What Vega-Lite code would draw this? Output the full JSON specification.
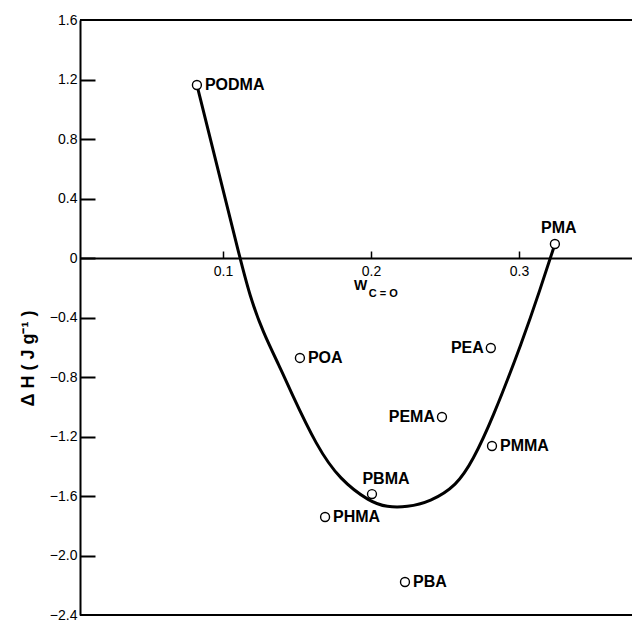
{
  "$schema": "https://vega.github.io/schema/vega-lite/v6.json",
  "autosize": "none",
  "width": 552,
  "height": 595,
  "padding": {"left": 80, "top": 20, "right": 0, "bottom": 12},
  "background": "white",
  "config": {
    "view": {"stroke": null},
    "font": "Liberation Sans",
    "axis": {"grid": false, "domainColor": "black", "tickColor": "black", "labelColor": "black", "titleColor": "black"}
  },
  "resolve": {"axis": {"x": "independent", "y": "independent"}},
  "datasets": {
    "points": [
      {"name": "PODMA", "w": 0.0824, "dh": 1.163},
      {"name": "PMA", "w": 0.3243, "dh": 0.094},
      {"name": "POA", "w": 0.152, "dh": -0.672},
      {"name": "PEA", "w": 0.281, "dh": -0.605},
      {"name": "PEMA", "w": 0.248, "dh": -1.069},
      {"name": "PMMA", "w": 0.2818, "dh": -1.264},
      {"name": "PBMA", "w": 0.2007, "dh": -1.587},
      {"name": "PHMA", "w": 0.169, "dh": -1.741},
      {"name": "PBA", "w": 0.223, "dh": -2.178}
    ],
    "curve": [
      {"w": 0.0824, "dh": 1.163},
      {"w": 0.097, "dh": 0.58},
      {"w": 0.1115, "dh": 0.0},
      {"w": 0.118, "dh": -0.25},
      {"w": 0.127, "dh": -0.50},
      {"w": 0.1385, "dh": -0.733},
      {"w": 0.1453, "dh": -0.887},
      {"w": 0.1635, "dh": -1.27},
      {"w": 0.179, "dh": -1.49},
      {"w": 0.1993, "dh": -1.64},
      {"w": 0.2108, "dh": -1.675},
      {"w": 0.2243, "dh": -1.675},
      {"w": 0.2399, "dh": -1.64},
      {"w": 0.258, "dh": -1.53},
      {"w": 0.2689, "dh": -1.36},
      {"w": 0.2818, "dh": -1.09},
      {"w": 0.3027, "dh": -0.55},
      {"w": 0.3142, "dh": -0.215},
      {"w": 0.3243, "dh": 0.094}
    ],
    "frame": [{"dh": 1.6}, {"dh": -2.4}],
    "xtitle": [{"t": "W", "w": 0.1885, "dh": -0.185, "k": "main"}, {"t": "C = O", "w": 0.1985, "dh": -0.24, "k": "sub"}]
  },
  "layer": [
    {
      "data": {"name": "frame"},
      "mark": {"type": "rule", "color": "black", "strokeWidth": 2},
      "encoding": {
        "y": {"field": "dh", "type": "quantitative", "scale": {"domain": [-2.4, 1.6], "nice": false, "zero": false},
          "axis": {"values": [-2.4, -2.0, -1.6, -1.2, -0.8, -0.4, 0, 0.4, 0.8, 1.2, 1.6], "ticks": false, "tickSize": 0, "domainWidth": 2,
            "labelExpr": "datum.value == 0 ? '0' : format(datum.value, '.1f')", "labelFontSize": 14, "labelPadding": 3,
            "title": "Δ H ( J  g⁻¹ )", "titleFontSize": 18, "titleFontWeight": "bold", "titleY": 338, "titleX": -43}}
      }
    },
    {
      "data": {"name": "curve"},
      "mark": {"type": "line", "color": "black", "strokeWidth": 3, "interpolate": "basis"},
      "encoding": {
        "x": {"field": "w", "type": "quantitative", "scale": {"domain": [0.0034, 0.3764], "nice": false, "zero": false},
          "axis": {"values": [0.1, 0.2, 0.3], "offset": -357, "ticks": false, "tickSize": 0, "domainWidth": 2, "labelFontSize": 14, "labelPadding": 6, "format": ".1f", "title": null}},
        "y": {"field": "dh", "type": "quantitative", "axis": null}
      }
    },
    {
      "data": {"name": "points"},
      "mark": {"type": "point", "shape": "circle", "size": 80, "filled": false, "fill": "white", "fillOpacity": 1, "stroke": "black", "strokeWidth": 1.4},
      "encoding": {
        "x": {"field": "w", "type": "quantitative",
          "axis": {"orient": "top", "values": [0.1, 0.2, 0.3], "offset": -238, "domain": false, "labels": false, "ticks": true, "tickSize": 7, "tickWidth": 1.5, "title": null}},
        "y": {"field": "dh", "type": "quantitative",
          "axis": {"orient": "right", "values": [-2.0, -1.6, -1.2, -0.8, -0.4, 0, 0.4, 0.8, 1.2], "offset": -552, "domain": false, "labels": false, "ticks": true, "tickSize": 15, "tickWidth": 2, "title": null}}
      }
    },
    {
      "data": {"name": "points"},
      "transform": [{"filter": "indexof(['PODMA','POA','PMMA','PHMA','PBA'], datum.name) >= 0"}],
      "mark": {"type": "text", "align": "left", "baseline": "middle", "dx": 8, "fontSize": 16, "fontWeight": "bold", "color": "black"},
      "encoding": {
        "x": {"field": "w", "type": "quantitative", "axis": null},
        "y": {"field": "dh", "type": "quantitative", "axis": null},
        "text": {"field": "name"}
      }
    },
    {
      "data": {"name": "points"},
      "transform": [{"filter": "indexof(['PEA','PEMA'], datum.name) >= 0"}],
      "mark": {"type": "text", "align": "right", "baseline": "middle", "dx": -7, "fontSize": 16, "fontWeight": "bold", "color": "black"},
      "encoding": {
        "x": {"field": "w", "type": "quantitative", "axis": null},
        "y": {"field": "dh", "type": "quantitative", "axis": null},
        "text": {"field": "name"}
      }
    },
    {
      "data": {"name": "points"},
      "transform": [{"filter": "datum.name == 'PMA'"}],
      "mark": {"type": "text", "align": "center", "baseline": "middle", "dx": 4, "dy": -16, "fontSize": 16, "fontWeight": "bold", "color": "black"},
      "encoding": {
        "x": {"field": "w", "type": "quantitative", "axis": null},
        "y": {"field": "dh", "type": "quantitative", "axis": null},
        "text": {"field": "name"}
      }
    },
    {
      "data": {"name": "points"},
      "transform": [{"filter": "datum.name == 'PBMA'"}],
      "mark": {"type": "text", "align": "center", "baseline": "middle", "dx": 14, "dy": -15, "fontSize": 16, "fontWeight": "bold", "color": "black"},
      "encoding": {
        "x": {"field": "w", "type": "quantitative", "axis": null},
        "y": {"field": "dh", "type": "quantitative", "axis": null},
        "text": {"field": "name"}
      }
    },
    {
      "data": {"name": "xtitle"},
      "mark": {"type": "text", "align": "left", "baseline": "middle", "fontWeight": "bold", "color": "black"},
      "encoding": {
        "x": {"field": "w", "type": "quantitative", "axis": null},
        "y": {"field": "dh", "type": "quantitative", "axis": null},
        "text": {"field": "t"},
        "size": {"field": "k", "type": "nominal", "scale": {"domain": ["main", "sub"], "range": [14, 11]}, "legend": null}
      }
    }
  ]
}
